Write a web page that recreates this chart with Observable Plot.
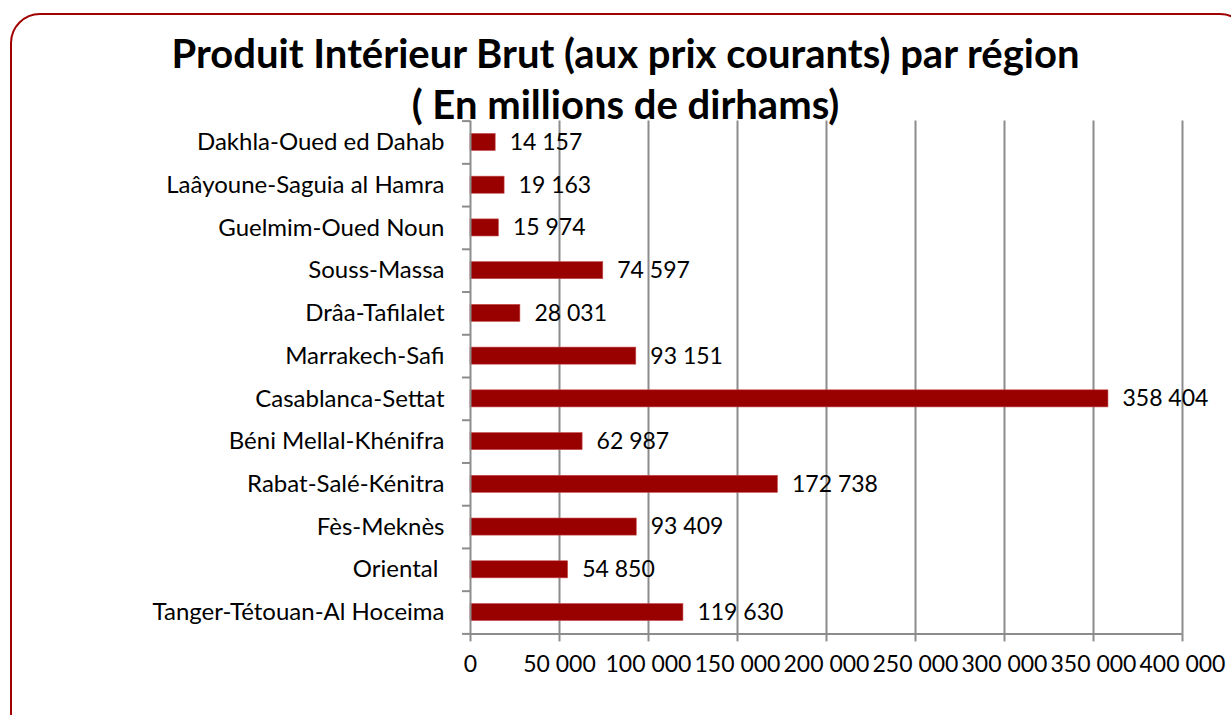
<!DOCTYPE html>
<html>
<head>
<meta charset="utf-8">
<script src="https://cdn.jsdelivr.net/npm/d3@7"></script>
<script src="https://cdn.jsdelivr.net/npm/@observablehq/plot@0.6"></script>
<style>
  html, body { margin: 0; padding: 0; background: #fff; overflow: hidden; }
  #wrap { position: relative; width: 1231px; height: 715px; overflow: hidden; font-family: Lato, "Noto Sans", sans-serif; }
  #frame { position: absolute; left: 10px; top: 13px; width: 1240px; height: 730px; border: 2px solid #a00000; border-radius: 30px; box-sizing: border-box; }
  #title { position: absolute; left: 0; width: 1251px; top: 28px; text-align: center; font-weight: bold; font-size: 40px; line-height: 51px; color: #000; z-index: 2; }
  #chart { position: absolute; left: 0; top: 0; }
</style>
</head>
<body>
<div id="wrap">
  <div id="frame"></div>
  <div id="chart"></div>
  <div id="title">Produit Intérieur Brut (aux prix courants) par région<br>( En millions de dirhams)</div>
</div>
<script>
const regions = [
  "Dakhla-Oued ed Dahab",
  "Laâyoune-Saguia al Hamra",
  "Guelmim-Oued Noun",
  "Souss-Massa",
  "Drâa-Tafilalet",
  "Marrakech-Safi",
  "Casablanca-Settat",
  "Béni Mellal-Khénifra",
  "Rabat-Salé-Kénitra",
  "Fès-Meknès",
  "Oriental ",
  "Tanger-Tétouan-Al Hoceima"
];
const pib = [14157, 19163, 15974, 74597, 28031, 93151, 358404, 62987, 172738, 93409, 54850, 119630];
const xTicks = [0, 50000, 100000, 150000, 200000, 250000, 300000, 350000, 400000];

const locale = d3.formatLocale({decimal: ",", thousands: " ", grouping: [3], currency: ["", ""]});
const fmt = locale.format(",");

const data = regions.map((r, i) => ({region: r, i, value: pib[i]}));
const boundaries = d3.range(regions.length + 1).map(k => k - 0.5);

const chart = Plot.plot({
  width: 1231,
  height: 715,
  marginLeft: 470,
  marginRight: 49,
  marginTop: 120.6,
  marginBottom: 81.6,
  style: {fontFamily: "Lato, 'Noto Sans', sans-serif", fontSize: "23px", color: "#000", background: "transparent"},
  x: {domain: [0, 400000]},
  y: {domain: [regions.length - 0.5, -0.5]},
  marks: [
    Plot.ruleX(xTicks.slice(1), {y1: -0.5, y2: regions.length - 0.5, stroke: "#8c8c8c", strokeWidth: 2}),
    Plot.rectX(data, {x1: 0, x2: "value", y1: d => d.i - 0.2, y2: d => d.i + 0.2, fill: "#990000", stroke: "#c85050", strokeWidth: 0.6}),
    Plot.ruleX([0], {y1: -0.5, y2: regions.length - 0.5, stroke: "#8c8c8c", strokeWidth: 2}),
    Plot.ruleY([regions.length - 0.5], {x1: 0, x2: 400000, stroke: "#8c8c8c", strokeWidth: 2}),
    Plot.axisY({ticks: boundaries, tickSize: 8, tickFormat: () => "", stroke: "#8c8c8c", strokeWidth: 2, label: null}),
    Plot.axisY({ticks: d3.range(regions.length), tickSize: 0, tickPadding: 26, tickFormat: i => regions[i], fill: "#000", fontSize: 24, label: null}),
    Plot.axisX({ticks: xTicks, tickSize: 8, tickPadding: 14, tickFormat: fmt, stroke: "#8c8c8c", strokeWidth: 2, fill: "#000", fontSize: 23, label: null}),
    Plot.text(data, {x: "value", y: "i", text: d => fmt(d.value), textAnchor: "start", dx: 14, fill: "#000", fontSize: 23})
  ]
});
document.getElementById("chart").appendChild(chart);
</script>
</body>
</html>
